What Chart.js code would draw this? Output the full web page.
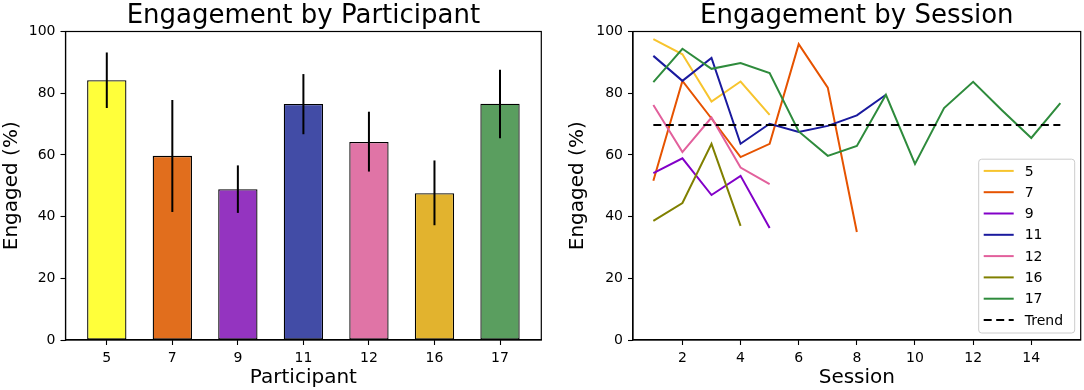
<!DOCTYPE html>
<html>
<head>
<meta charset="utf-8">
<script src="https://cdn.jsdelivr.net/npm/chart.js@4.4.1/dist/chart.umd.min.js"></script>
<style>
  html, body { margin: 0; padding: 0; background: #ffffff; }
  body { width: 1084px; height: 390px; position: relative; overflow: hidden; }
  canvas { position: absolute; top: 0; }
</style>
</head>
<body>
<canvas id="left" width="580" height="390" style="left:0px;"></canvas>
<canvas id="right" width="524" height="390" style="left:560px;"></canvas>
<script>
// ---------- data ----------
const participants = ['5', '7', '9', '11', '12', '16', '17'];
const meanEngaged = [84.2, 59.7, 48.9, 76.5, 64.2, 47.6, 76.6];
const errLow = [75.2, 41.5, 41.2, 66.7, 54.6, 37.2, 65.4];
const errHigh = [93.2, 77.8, 56.6, 86.2, 74.0, 58.2, 87.6];

const sessions = [1, 2, 3, 4, 5, 6, 7, 8, 9, 10, 11, 12, 13, 14, 15];
const p5 = [97.5, 92.6, 77.3, 83.8, 73.0];
const p7 = [51.6, 84.0, 71.8, 59.3, 63.6, 95.9, 81.8, 35.0];
const p9 = [54.1, 58.9, 47.0, 53.2, 36.3];
const p11 = [92.1, 84.0, 91.4, 63.6, 70.1, 67.4, 69.4, 72.8, 79.5];
const p12 = [76.2, 60.9, 72.1, 55.9, 50.5];
const p16 = [38.6, 44.4, 63.6, 37.0];
const p17 = [83.6, 94.4, 87.9, 89.8, 86.5, 67.6, 59.7, 62.9, 79.5, 57.1, 75.2, 83.7, 74.4, 65.5, 76.8];
const trendSessions = [1, 15];
const trendValue = [69.7, 69.7];

const yTicks = [0, 20, 40, 60, 80, 100];
const sessionTicks = [2, 4, 6, 8, 10, 12, 14];

// ---------- styles ----------
const FONT = "'DejaVu Sans', 'Liberation Sans', sans-serif";
const barColors = ['#ffff3a', '#e16e1d', '#9434c0', '#424ca6', '#e074a6', '#e2b32e', '#5a9e5f'];
const lineColors = ['#f7c42e', '#e65300', '#8200c8', '#1a1a9e', '#e2609c', '#808000', '#2e8b3c'];

Chart.defaults.font.family = FONT;
Chart.defaults.color = '#000000';

const framePlugin = {
  id: 'frame',
  afterDraw(chart) {
    const a = chart.chartArea, ctx = chart.ctx;
    ctx.save();
    ctx.strokeStyle = '#000000';
    ctx.lineWidth = 1.2;
    ctx.strokeRect(a.left, a.top, a.right - a.left, a.bottom - a.top);
    ctx.restore();
  }
};

const errorBarPlugin = {
  id: 'errorBars',
  afterDatasetsDraw(chart) {
    const xs = chart.scales.x, ys = chart.scales.y, ctx = chart.ctx;
    ctx.save();
    ctx.strokeStyle = '#000000';
    ctx.lineWidth = 2;
    participants.forEach((p, i) => {
      const x = xs.getPixelForValue(i);
      ctx.beginPath();
      ctx.moveTo(x, ys.getPixelForValue(errLow[i]));
      ctx.lineTo(x, ys.getPixelForValue(errHigh[i]));
      ctx.stroke();
    });
    ctx.restore();
  }
};

const insideLegendPlugin = {
  id: 'insideLegend',
  afterDraw(chart) {
    const a = chart.chartArea, ctx = chart.ctx;
    const ds = chart.data.datasets;
    const w = 96, rowH = 21.3, padTop = 11.7, padBottom = 13.0;
    const h = padTop + rowH * (ds.length - 1) + padBottom;
    const right = a.right - 6, bottom = a.bottom - 7;
    const left = right - w, top = bottom - h;
    ctx.save();
    ctx.beginPath();
    if (ctx.roundRect) ctx.roundRect(left, top, w, h, 3); else ctx.rect(left, top, w, h);
    ctx.fillStyle = 'rgba(255,255,255,0.85)';
    ctx.fill();
    ctx.strokeStyle = '#cccccc';
    ctx.lineWidth = 1;
    ctx.stroke();
    ctx.font = '14px ' + FONT;
    ctx.textBaseline = 'middle';
    ctx.textAlign = 'left';
    ds.forEach((d, i) => {
      const y = top + padTop + i * rowH;
      ctx.beginPath();
      ctx.strokeStyle = d.borderColor;
      ctx.lineWidth = d.borderWidth;
      ctx.setLineDash(d.borderDash || []);
      ctx.moveTo(left + 5, y);
      ctx.lineTo(left + 35, y);
      ctx.stroke();
      ctx.setLineDash([]);
      ctx.fillStyle = '#000000';
      ctx.fillText(d.label, left + 46, y + 1);
    });
    ctx.restore();
  }
};

function yAxis(width, titlePadTop) {
  return {
    type: 'linear',
    min: 0, max: 100,
    afterBuildTicks(scale) { scale.ticks = yTicks.map(v => ({ value: v })); },
    afterFit(scale) { scale.width = width; },
    ticks: { font: { size: 14 }, color: '#000', padding: 5 },
    grid: { drawOnChartArea: false, drawTicks: true, tickLength: 5, tickColor: '#000', tickWidth: 1.1 },
    border: { display: true, color: '#000', width: 1.2 },
    title: { display: true, text: 'Engaged (%)', font: { size: 20 }, color: '#000', padding: { top: titlePadTop, bottom: 0 } }
  };
}

function titleCfg(text) {
  return { display: true, fullSize: false, text: text, font: { size: 26, weight: 'normal', lineHeight: 1.2 }, color: '#000', padding: { top: 0, bottom: 0 } };
}

function xAxisBase(titleText) {
  return {
    type: 'linear',
    offset: false,
    afterFit(scale) { scale.height = 50; },
    grid: { offset: false, drawOnChartArea: false, drawTicks: true, tickLength: 5, tickColor: '#000', tickWidth: 1.1 },
    border: { display: true, color: '#000', width: 1.2 },
    title: { display: true, text: titleText, font: { size: 20 }, color: '#000', padding: { top: 0, bottom: 0 } }
  };
}

// ---------- left chart ----------
const leftX = xAxisBase('Participant');
leftX.min = -0.63;
leftX.max = 6.63;
leftX.afterBuildTicks = (scale) => { scale.ticks = participants.map((p, i) => ({ value: i })); };
leftX.ticks = { font: { size: 14 }, color: '#000', padding: 5, maxRotation: 0, autoSkip: false, callback: (v) => participants[v] };

new Chart(document.getElementById('left'), {
  type: 'bar',
  data: {
    datasets: [{
      label: 'Engagement',
      data: meanEngaged.map((v, i) => ({ x: i, y: v })),
      backgroundColor: barColors,
      borderColor: '#000000',
      borderWidth: 1.3,
      borderSkipped: false,
      barPercentage: 0.6,
      categoryPercentage: 1.0
    }]
  },
  options: {
    responsive: false,
    animation: false,
    events: [],
    layout: { padding: { left: 0, right: 38.7, top: 0.3, bottom: 0 } },
    plugins: { legend: { display: false }, tooltip: { enabled: false }, title: titleCfg('Engagement by Participant') },
    scales: { x: leftX, y: yAxis(65.5, 0) }
  },
  plugins: [errorBarPlugin, framePlugin]
});

// ---------- right chart ----------
const seriesList = [p5, p7, p9, p11, p12, p16, p17];
const lineDatasets = seriesList.map((vals, k) => ({
  label: participants[k],
  data: vals.map((v, j) => ({ x: sessions[j], y: v })),
  borderColor: lineColors[k],
  backgroundColor: lineColors[k],
  borderWidth: 2,
  pointRadius: 0,
  tension: 0,
  fill: false,
  order: 20 - k
}));
lineDatasets.push({
  label: 'Trend',
  data: trendSessions.map((s, j) => ({ x: s, y: trendValue[j] })),
  borderColor: '#000000',
  backgroundColor: '#000000',
  borderWidth: 2,
  borderDash: [8, 4.5],
  pointRadius: 0,
  tension: 0,
  fill: false,
  order: 0
});

const rightX = xAxisBase('Session');
rightX.min = 0.3;
rightX.max = 15.7;
rightX.afterBuildTicks = (scale) => { scale.ticks = sessionTicks.map(v => ({ value: v })); };
rightX.ticks = { font: { size: 14 }, color: '#000', padding: 5, maxRotation: 0, autoSkip: false };

new Chart(document.getElementById('right'), {
  type: 'line',
  data: { datasets: lineDatasets },
  options: {
    responsive: false,
    animation: false,
    events: [],
    layout: { padding: { left: 0, right: 3.3, top: 0.3, bottom: 0 } },
    plugins: { legend: { display: false }, tooltip: { enabled: false }, title: titleCfg('Engagement by Session') },
    scales: { x: rightX, y: yAxis(73, 6) }
  },
  plugins: [framePlugin, insideLegendPlugin]
});
</script>
</body>
</html>
